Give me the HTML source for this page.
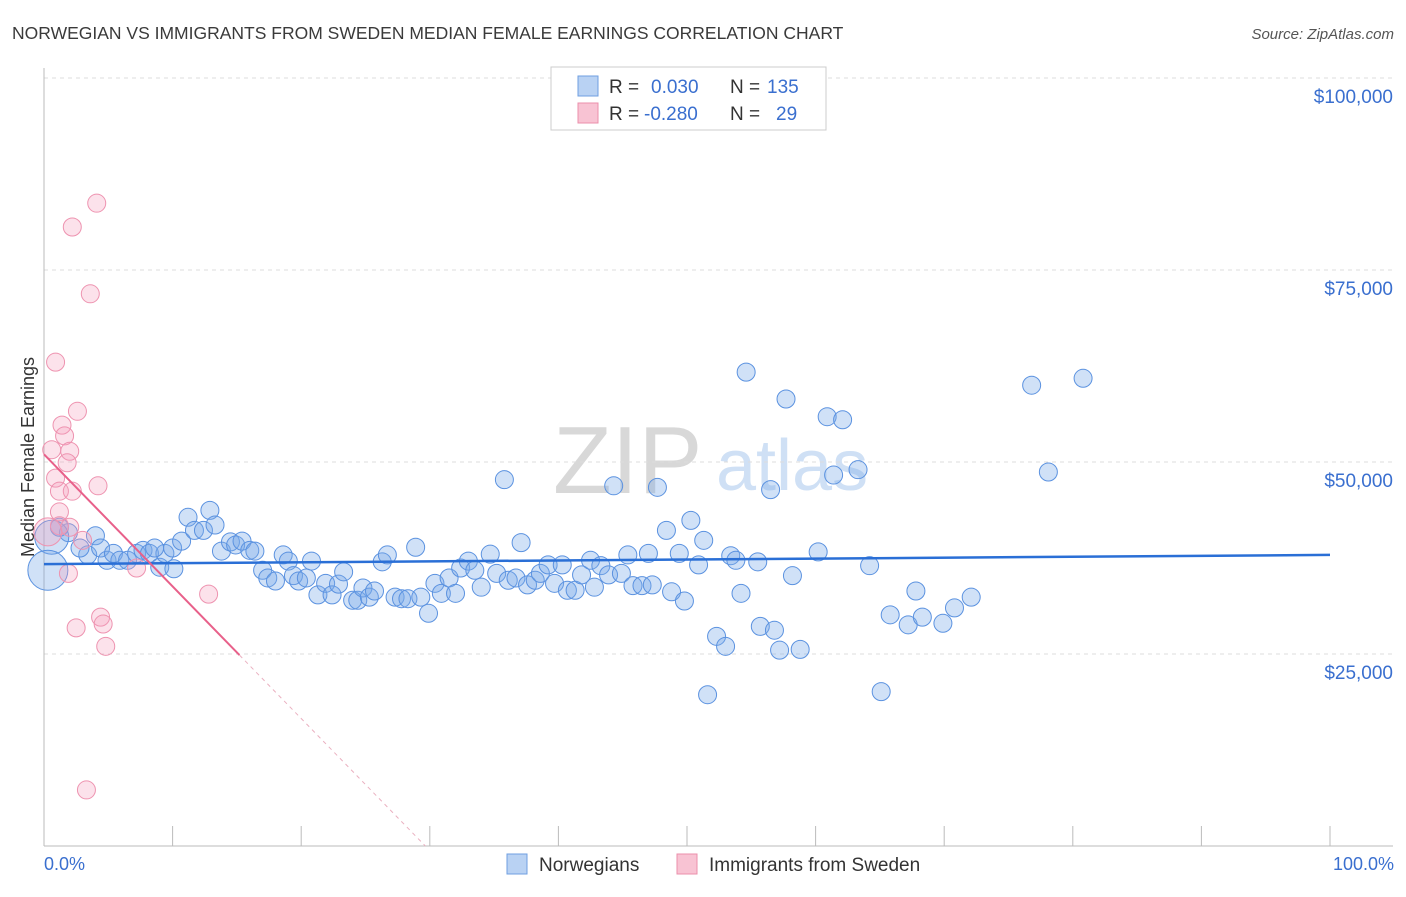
<!DOCTYPE html>
<html><head><meta charset="utf-8"><style>
body{margin:0;background:#fff;font-family:"Liberation Sans",sans-serif;}
svg text{font-family:"Liberation Sans",sans-serif;}
</style></head><body>
<svg id="chart" width="1406" height="892" xmlns="http://www.w3.org/2000/svg">
<text x="12" y="39" font-size="17.5" fill="#3a3a3a">NORWEGIAN VS IMMIGRANTS FROM SWEDEN MEDIAN FEMALE EARNINGS CORRELATION CHART</text>
<text x="1394" y="39" font-size="15" fill="#555" font-style="italic" text-anchor="end">Source: ZipAtlas.com</text>
<g>
<text x="553" y="493" font-size="96" fill="#d8d8d8" font-family="Liberation Serif, serif">ZIP</text>
<text x="716" y="490" font-size="72" fill="#cfe0f5">atlas</text>
</g>
<g id="grid"></g>
<g id="axes"></g>
<g id="points"></g>
<g id="trends"></g>
<text transform="translate(34,457) rotate(-90)" font-size="18" fill="#333" text-anchor="middle">Median Female Earnings</text>
<text x="44" y="870" font-size="18" fill="#3a6fcf">0.0%</text>
<text x="1394" y="870" font-size="18" fill="#3a6fcf" text-anchor="end">100.0%</text>
<g>
<rect x="551" y="67" width="275" height="63" fill="#fff" stroke="#ccc"/>
<rect x="578" y="76" width="20" height="20" fill="#b9d2f3" stroke="#6f9fe0"/>
<rect x="578" y="103" width="20" height="20" fill="#f8c3d3" stroke="#eb8fab"/>
<text x="609" y="93" font-size="19" fill="#333">R =</text>
<text x="651" y="93" font-size="19" fill="#3a6fcf">0.030</text>
<text x="730" y="93" font-size="19" fill="#333">N =</text>
<text x="767" y="93" font-size="19" fill="#3a6fcf">135</text>
<text x="609" y="120" font-size="19" fill="#333">R =</text>
<text x="644" y="120" font-size="19" fill="#3a6fcf">-0.280</text>
<text x="730" y="120" font-size="19" fill="#333">N =</text>
<text x="776" y="120" font-size="19" fill="#3a6fcf">29</text>
</g>
<g>
<rect x="507" y="854" width="20" height="20" fill="#b9d2f3" stroke="#6f9fe0"/>
<text x="539" y="871" font-size="19" fill="#333">Norwegians</text>
<rect x="677" y="854" width="20" height="20" fill="#f8c3d3" stroke="#eb8fab"/>
<text x="709" y="871" font-size="19" fill="#333">Immigrants from Sweden</text>
</g>
</svg>
<script>
const blueX=[1.9,3.4,4.0,4.4,4.9,5.4,5.9,6.5,7.2,7.7,8.2,9.0,9.4,10.0,10.7,11.2,11.7,12.4,12.9,13.3,13.8,14.5,14.9,15.4,16.0,16.4,17.0,17.4,18.0,18.6,19.0,19.4,19.8,20.4,20.8,21.3,21.9,22.4,22.9,23.3,24.0,24.4,24.8,25.3,25.7,26.3,26.7,27.3,27.8,28.3,28.9,29.3,29.9,30.4,30.9,31.5,32.0,32.4,33.0,33.5,34.0,34.7,35.2,35.8,36.1,36.7,37.1,37.6,38.2,38.6,39.2,39.7,40.3,40.7,41.3,41.8,42.5,42.8,43.3,43.9,44.3,44.9,45.4,45.8,46.5,47.0,47.3,47.7,48.4,48.8,49.4,49.8,50.3,50.9,51.3,52.3,53.0,53.4,53.8,54.2,54.6,55.7,55.5,56.5,56.8,57.2,57.7,58.2,58.8,60.2,60.9,61.4,62.1,63.3,64.2,65.1,65.8,67.2,67.8,68.3,69.9,70.8,72.1,76.8,78.1,80.8,51.6,1.2,2.8,8.6,10.1,0.6,0.3];
const blueY=[40.8,37.9,40.4,38.8,37.2,38.1,37.2,37.2,38.1,38.5,38.1,36.3,38.1,38.8,39.7,42.8,41.1,41.1,43.7,41.8,38.4,39.6,39.2,39.7,38.5,38.4,35.9,34.9,34.5,37.9,37.1,35.2,34.5,34.9,37.1,32.7,34.2,32.7,34.1,35.7,32.0,32.0,33.6,32.4,33.2,37.0,37.9,32.4,32.2,32.2,38.9,32.4,30.3,34.2,32.9,34.9,32.9,36.2,37.1,35.9,33.7,38.0,35.5,47.7,34.6,34.9,39.5,34.0,34.6,35.5,36.6,34.2,36.6,33.3,33.3,35.3,37.2,33.7,36.5,35.3,46.9,35.5,37.9,33.9,33.9,38.1,34.0,46.7,41.1,33.1,38.1,31.9,42.4,36.6,39.8,27.3,26.0,37.8,37.2,32.9,61.7,28.6,37.0,46.4,28.1,25.5,58.2,35.2,25.6,38.3,55.9,48.3,55.5,49.0,36.5,20.1,30.1,28.8,33.2,29.8,29.0,31.0,32.4,60.0,48.7,60.9,19.7,41.5,38.8,38.8,36.1,40.2,35.9];
const blueBig=[0.6,0.3]; /* x-values of large-population points */
const pinkX=[4.1,2.2,3.6,0.9,2.6,1.4,1.6,2.0,0.6,1.8,0.9,1.2,2.2,4.2,1.2,1.2,2.0,3.0,7.2,12.8,1.9,4.4,4.6,2.5,4.8,3.3,0.3];
const pinkY=[83.7,80.6,71.9,63.0,56.6,54.8,53.4,51.4,51.6,49.9,47.9,46.2,46.2,46.9,43.5,41.7,41.5,39.8,36.2,32.8,35.5,29.8,28.9,28.4,26.0,7.3,40.9];
const yTicks=[25,50,75,100];
const yTickLabels=["$25,000","$50,000","$75,000","$100,000"];
const blueTrend=[36.7,37.9]; // y at x=0 and x=100
const pinkTrend=[51.0,-1.72]; // intercept, slope per %
const pinkSolidEnd=15.2;

const NS="http://www.w3.org/2000/svg";
const X=v=>44+v*12.86;
const Y=v=>846-v*7.68;
function mk(tag,attrs,parent){const e=document.createElementNS(NS,tag);for(const k in attrs)e.setAttribute(k,attrs[k]);parent.appendChild(e);return e;}
const grid=document.getElementById('grid'),axes=document.getElementById('axes'),pts=document.getElementById('points'),tr=document.getElementById('trends');
yTicks.forEach((t,i)=>{
 const l=mk('line',{x1:44,x2:1393,y1:Y(t),y2:Y(t),stroke:'#ddd','stroke-dasharray':'4,4'},grid);
 
 
 const tx=mk('text',{x:1393,y:Y(t)+25,'font-size':19,fill:'#3a6fcf','text-anchor':'end'},grid);
 tx.textContent=yTickLabels[i];
 
 
});
const la=mk('line',{x1:44,x2:44,y1:68,y2:846,stroke:'#bbb'},axes);


const lb=mk('line',{x1:44,x2:1393,y1:846,y2:846,stroke:'#bbb'},axes);


for(let i=0;i<=10;i++){
 const t=mk('line',{x1:X(i*10),x2:X(i*10),y1:826,y2:846,stroke:'#bbb'},axes);
 
 
}
blueX.forEach((x,i)=>{
 const big=blueBig.includes(x)&&i>=blueX.length-2;
 const r=big?(i===blueX.length-1?20:17):9;
 const c=mk('circle',{cx:X(x),cy:Y(blueY[i]),r:r,fill:'rgba(120,168,232,0.35)',stroke:'#5b92e0','stroke-width':1},pts);
 
 
});
pinkX.forEach((x,i)=>{
 const r=i===pinkX.length-1?14:9;
 const c=mk('circle',{cx:X(x),cy:Y(pinkY[i]),r:r,fill:'rgba(245,160,188,0.3)',stroke:'#ee93b0','stroke-width':1},pts);
 
 
});
const bt=mk('line',{x1:X(0),y1:Y(blueTrend[0]),x2:X(100),y2:Y(blueTrend[1]),stroke:'#2a6fd6','stroke-width':2.5},tr);


const pEnd=-pinkTrend[0]/pinkTrend[1];
const pt=mk('line',{x1:X(0),y1:Y(pinkTrend[0]),x2:X(pinkSolidEnd),y2:Y(pinkTrend[0]+pinkTrend[1]*pinkSolidEnd),stroke:'#e8608a','stroke-width':2},tr);


const pd=mk('line',{x1:X(pinkSolidEnd),y1:Y(pinkTrend[0]+pinkTrend[1]*pinkSolidEnd),x2:X(pEnd),y2:Y(0),stroke:'#eab0c0','stroke-width':1,'stroke-dasharray':'4,4'},tr);


</script>
</body></html>
